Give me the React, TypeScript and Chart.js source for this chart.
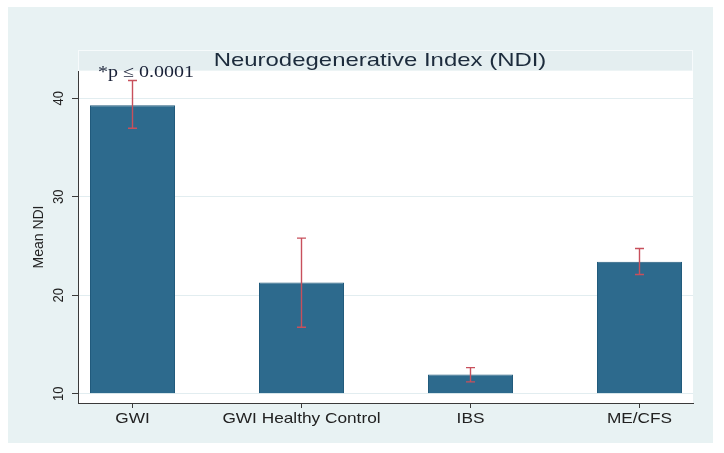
import React, { useEffect, useRef } from "react";
import { Chart, registerables } from "chart.js";

Chart.register(...registerables);

// ---- data ----
const categories: string[] = ["GWI", "GWI Healthy Control", "IBS", "ME/CFS"];
const meanNdi: number[] = [39.3, 21.3, 11.95, 23.4];
const ciLower: number[] = [36.95, 16.75, 11.2, 22.1];
const ciUpper: number[] = [41.8, 25.8, 12.65, 24.75];
const yTicks: number[] = [10, 20, 30, 40];
const titleText = "Neurodegenerative Index (NDI)";
const yTitle = "Mean NDI";
const pNote = "*p \u2264 0.0001";

const W = 724;
const H = 453;
const BG = "#e8f2f3";
const BAR = "#2d6a8d";
const BAR_BORDER = "#225b7c";
const ERR = "#c8505c";
const AXIS = "#3a3a3a";
const TEXT = "#222222";

function drawText(
  ctx: CanvasRenderingContext2D,
  text: string,
  x: number,
  y: number,
  font: string,
  color: string,
  align: CanvasTextAlign,
  stretchX: number,
  rotate: number
) {
  ctx.save();
  ctx.translate(x, y);
  ctx.scale(stretchX, 1);
  ctx.rotate(rotate);
  ctx.font = font;
  ctx.fillStyle = color;
  ctx.textAlign = align;
  ctx.textBaseline = "alphabetic";
  ctx.fillText(text, 0, 0);
  ctx.restore();
}

const backgroundPlugin = {
  id: "stataBackground",
  beforeDraw(chart: any) {
    const { ctx, chartArea } = chart;
    ctx.save();
    ctx.fillStyle = "#ffffff";
    ctx.fillRect(0, 0, W, H);
    ctx.fillStyle = BG;
    ctx.fillRect(8, 7, 705, 436);
    // title band
    ctx.fillStyle = "#e4eef0";
    ctx.fillRect(chartArea.left, 50.5, chartArea.right - chartArea.left, chartArea.top - 50.5);
    ctx.strokeStyle = "#f6fafb";
    ctx.lineWidth = 1;
    ctx.strokeRect(chartArea.left + 0.5, 50.5, chartArea.right - chartArea.left - 1, chartArea.top - 50.5);
    // plot region
    ctx.fillStyle = "#ffffff";
    ctx.fillRect(chartArea.left, chartArea.top, chartArea.right - chartArea.left, chartArea.bottom - chartArea.top);
    ctx.restore();
  },
};

const errorBarPlugin = {
  id: "errorBars",
  afterDatasetsDraw(chart: any) {
    const { ctx } = chart;
    const xs = chart.scales.x;
    const ys = chart.scales.y;
    ctx.save();
    ctx.strokeStyle = ERR;
    ctx.lineWidth = 1.4;
    categories.forEach((_, i) => {
      const x = xs.getPixelForValue(i);
      const y1 = ys.getPixelForValue(ciLower[i]);
      const y2 = ys.getPixelForValue(ciUpper[i]);
      ctx.beginPath();
      ctx.moveTo(x, y1);
      ctx.lineTo(x, y2);
      ctx.moveTo(x - 4.5, y1);
      ctx.lineTo(x + 4.5, y1);
      ctx.moveTo(x - 4.5, y2);
      ctx.lineTo(x + 4.5, y2);
      ctx.stroke();
    });
    ctx.restore();
  },
};

const textPlugin = {
  id: "stataText",
  afterDraw(chart: any) {
    const { ctx, chartArea } = chart;
    const xs = chart.scales.x;
    const ys = chart.scales.y;
    const sans = '"Liberation Sans", Arial, sans-serif';
    // title
    drawText(ctx, titleText, 380, 65.5, `19px ${sans}`, "#1c2b3c", "center", 1.26, 0);
    // p-value note
    drawText(ctx, pNote, 98, 77, `16px "Liberation Serif", "Times New Roman", serif`, "#1b2238", "left", 1.25, 0);
    // x tick labels
    categories.forEach((c, i) => {
      drawText(ctx, c, xs.getPixelForValue(i), 423.3, `15px ${sans}`, TEXT, "center", 1.15, 0);
    });
    // y tick labels (rotated)
    yTicks.forEach((v) => {
      drawText(ctx, String(v), 63.3, ys.getPixelForValue(v), `13px ${sans}`, TEXT, "center", 1.15, -Math.PI / 2);
    });
    // y axis title
    drawText(
      ctx,
      yTitle,
      42.7,
      (chartArea.top + chartArea.bottom) / 2,
      `14px ${sans}`,
      TEXT,
      "center",
      1.05,
      -Math.PI / 2
    );
  },
};

export default function App() {
  const canvasRef = useRef<HTMLCanvasElement | null>(null);

  useEffect(() => {
    const canvas = canvasRef.current;
    if (!canvas) return;
    const chart = new Chart(canvas, {
      type: "bar",
      data: {
        datasets: [
          {
            label: yTitle,
            data: meanNdi.map((v, i) => ({ x: i, y: v })),
            backgroundColor: BAR,
            borderColor: BAR_BORDER,
            borderWidth: 1,
            base: 10,
            barPercentage: 0.503,
            categoryPercentage: 1,
          } as any,
        ],
      },
      options: {
        responsive: false,
        animation: false,
        devicePixelRatio: 1,
        layout: { padding: { top: 71, left: 0, right: 31, bottom: 0 } },
        plugins: {
          legend: { display: false },
          tooltip: { enabled: false },
          title: { display: false },
        },
        scales: {
          x: {
            type: "linear",
            position: "bottom",
            offset: false,
            min: -0.3225,
            max: 3.3166,
            afterBuildTicks: (s: any) => {
              s.ticks = categories.map((_, i) => ({ value: i }));
            },
            afterFit: (s: any) => {
              s.height = 50;
            },
            ticks: { display: false },
            grid: {
              offset: false,
              drawOnChartArea: false,
              drawTicks: true,
              tickLength: 5,
              tickColor: AXIS,
            },
            border: { display: true, color: AXIS, width: 1 },
          },
          y: {
            type: "linear",
            min: 9.056,
            max: 42.77,
            afterBuildTicks: (s: any) => {
              s.ticks = yTicks.map((v) => ({ value: v }));
            },
            afterFit: (s: any) => {
              s.width = 78;
            },
            ticks: { display: false },
            grid: {
              color: "#e2edf0",
              drawTicks: true,
              tickLength: 6,
              tickColor: AXIS,
            },
            border: { display: true, color: AXIS, width: 1 },
          },
        },
      } as any,
      plugins: [backgroundPlugin, errorBarPlugin, textPlugin],
    });
    return () => chart.destroy();
  }, []);

  return (
    <div style={{ position: "fixed", left: 0, top: 0, width: W, height: H, background: "#fff" }}>
      <canvas ref={canvasRef} width={W} height={H} style={{ display: "block" }} />
    </div>
  );
}
